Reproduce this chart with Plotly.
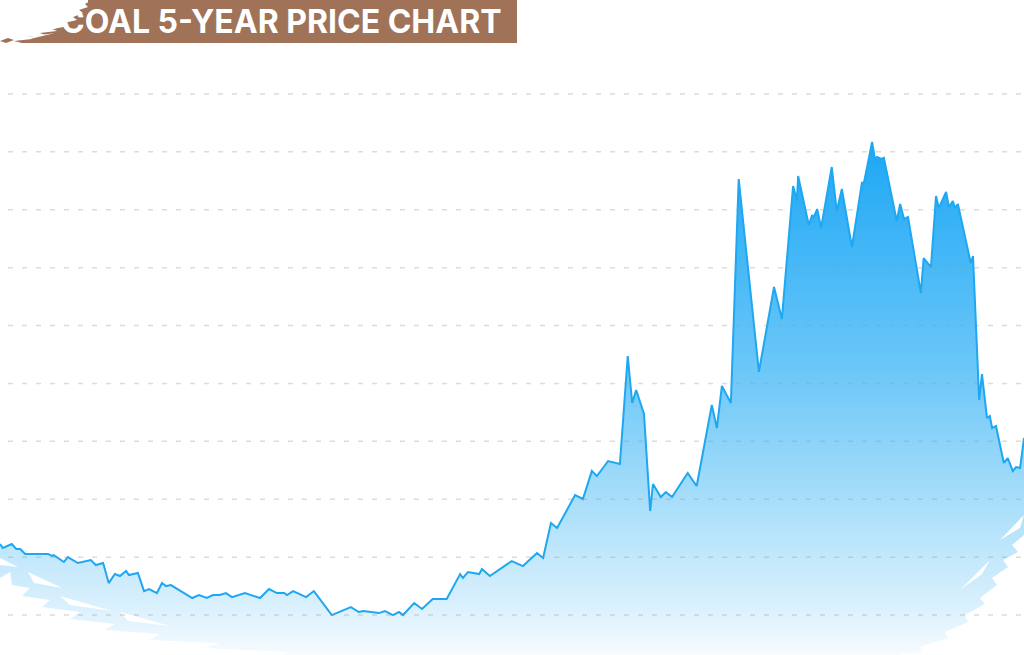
import pandas as pd
import plotly.graph_objects as go

# ---------------- data ----------------
start_date = "2019-11-01"
day_offsets = [0, 5, 21, 29, 36, 45, 86, 93, 96, 114, 121, 139, 162, 171, 184, 194, 205, 214, 225, 230,
               246, 257, 266, 280, 289, 296, 305, 343, 355, 369, 380, 392, 403, 414, 437, 464, 480, 494,
               507, 512, 523, 546, 560, 592, 626, 640, 648, 664, 671, 676, 687, 701, 712, 719, 739, 753,
               772, 797, 821, 826, 835, 855, 860, 874, 913, 933, 958, 969, 983, 994, 1026, 1040, 1056,
               1065, 1085, 1106, 1120, 1128, 1135, 1149, 1160, 1165, 1179, 1188, 1199, 1227, 1243, 1270,
               1279, 1288, 1304, 1318, 1354, 1381, 1395, 1415, 1422, 1424, 1443, 1449, 1452, 1458, 1465,
               1484, 1493, 1502, 1520, 1538, 1541, 1556, 1561, 1565, 1572, 1577, 1600, 1606, 1613, 1620,
               1643, 1648, 1661, 1670, 1675, 1688, 1693, 1700, 1704, 1709, 1732, 1736, 1747, 1752, 1761,
               1766, 1770, 1777, 1791, 1798, 1807, 1813, 1820, 1827]
prices = [111.3, 107.9, 111.3, 107.0, 107.0, 102.7, 102.7, 101.0, 101.8, 95.8, 100.1, 94.9, 97.5, 93.2,
          94.9, 77.6, 85.4, 83.7, 88.0, 84.5, 86.3, 70.7, 72.5, 69.0, 77.6, 75.0, 75.9, 64.7, 67.3, 64.7,
          67.3, 67.3, 69.0, 65.5, 69.0, 64.7, 72.5, 69.0, 69.0, 67.3, 70.7, 65.5, 70.7, 50.0, 56.9, 52.6,
          53.5, 52.6, 52.6, 51.7, 53.5, 50.0, 52.6, 50.0, 60.4, 55.2, 63.8, 63.8, 85.4, 82.0, 87.1, 85.4,
          89.7, 83.7, 96.6, 92.3, 103.5, 99.2, 129.5, 125.1, 153.6, 150.2, 174.4, 170.0, 183.0, 180.4,
          273.7, 233.1, 244.3, 223.6, 139.8, 163.1, 151.9, 156.2, 151.9, 172.6, 161.4, 231.4, 211.5,
          247.8, 233.1, 426.5, 259.9, 333.3, 305.6, 420.5, 408.4, 429.1, 386.8, 395.4, 393.7, 400.6,
          384.2, 436.9, 398.9, 417.9, 367.8, 423.9, 422.2, 458.5, 443.8, 445.5, 443.8, 444.7, 390.3,
          404.9, 392.0, 393.7, 328.1, 358.3, 350.5, 411.8, 401.5, 415.3, 402.3, 407.5, 401.5, 404.9,
          354.0, 360.0, 235.7, 258.1, 220.1, 221.9, 211.5, 213.2, 181.3, 185.6, 174.4, 177.8, 176.9, 202.9]
grid_values = [50, 100, 150, 200, 250, 300, 350, 400, 450, 500]
title_text = "COAL 5-YEAR PRICE CHART"

dates = pd.Timestamp(start_date) + pd.to_timedelta(day_offsets, unit="D")

# ---------------- layout constants ----------------
W, H = 1024, 655
Y_RANGE = [15.5, 581.1]
BROWN = "#a07258"


def px_path(points):
    """Build an SVG path in paper coordinates from pixel points."""
    segs = []
    for i, (px, py) in enumerate(points):
        segs.append(("M" if i == 0 else "L") + f"{px / W:.5f},{1 - py / H:.5f}")
    return " ".join(segs) + " Z"


fig = go.Figure()
fig.add_trace(go.Scatter(
    x=dates, y=prices, mode="lines",
    line=dict(color="#1fa7f1", width=2),
    fill="tozeroy",
    fillgradient=dict(
        type="vertical", start=Y_RANGE[0], stop=460,
        colorscale=[[0.0, "rgb(246,251,255)"], [0.107, "rgb(215,239,253)"],
                    [0.30, "rgb(168,222,250)"], [0.53, "rgb(112,201,248)"],
                    [1.0, "rgb(28,167,245)"]],
    ),
    hoverinfo="skip", showlegend=False,
))

shapes = []
# brush masks at bottom corners
white_brushes = [
    [(0, 578), (10, 572), (12, 585), (30, 588), (22, 596), (50, 600), (42, 607), (80, 612), (70, 619),
     (115, 624), (105, 630), (160, 634), (150, 640), (220, 643), (205, 648), (290, 652), (280, 655),
     (0, 655)],
    [(0, 558), (18, 567), (0, 565)],
    [(28, 572), (62, 588), (34, 583)],
    [(60, 596), (112, 611), (70, 605)],
    [(120, 612), (170, 626), (128, 621)],
    [(1024, 535), (1012, 545), (1018, 552), (1003, 560), (1008, 567), (992, 578), (997, 585),
     (980, 598), (985, 604), (965, 615), (968, 622), (945, 632), (948, 638), (920, 647),
     (922, 652), (895, 655), (1024, 655)],
    [(1024, 515), (1000, 540), (1020, 528)],
    [(990, 560), (960, 590), (982, 574)],
]
for pts in white_brushes:
    shapes.append(dict(type="path", xref="paper", yref="paper", path=px_path(pts),
                       fillcolor="white", line=dict(width=0), layer="above"))

# dashed gridlines on top
for gv in grid_values:
    shapes.append(dict(type="line", xref="paper", yref="y", x0=8 / W, x1=1, y0=gv, y1=gv,
                       line=dict(color="rgba(150,150,150,0.33)", width=1.5, dash="5px,9px"),
                       layer="above"))

# title banner
brown_brushes = [
    [(92, 0), (85, 4), (88, 7), (79, 10), (83, 13), (73, 17), (77, 20), (64, 23), (69, 26), (52, 29),
     (57, 31), (40, 33), (45, 35), (27, 37), (32, 39), (14, 41), (22, 43), (92, 43)],
    [(0, 41), (8, 38), (14, 40), (6, 43)],
]
for pts in brown_brushes:
    shapes.append(dict(type="path", xref="paper", yref="paper", path=px_path(pts),
                       fillcolor=BROWN, line=dict(width=0), layer="above"))
shapes.append(dict(type="rect", xref="paper", yref="paper", x0=88 / W, x1=517 / W, y0=1 - 43 / H, y1=1,
                   fillcolor=BROWN, line=dict(width=0), layer="above"))
# white scratches over the brush
for pts in ([(40, 30), (70, 24), (48, 31)], [(20, 38), (55, 33), (30, 39)], [(60, 20), (78, 14), (66, 21)]):
    shapes.append(dict(type="path", xref="paper", yref="paper", path=px_path(pts),
                       fillcolor="white", line=dict(width=0), layer="above"))

fig.update_layout(
    width=W, height=H,
    margin=dict(l=0, r=0, t=0, b=0),
    paper_bgcolor="white", plot_bgcolor="white",
    xaxis=dict(visible=False, range=[dates[0], dates[-1]]),
    yaxis=dict(visible=False, range=Y_RANGE),
    shapes=shapes,
    annotations=[dict(text=title_text, xref="paper", yref="paper", x=504 / W, y=1 - 22 / H,
                      xanchor="right", yanchor="middle", showarrow=False,
                      font=dict(family="Inter", size=32, color="white", weight=700))],
)

fig.write_html("out.html")
